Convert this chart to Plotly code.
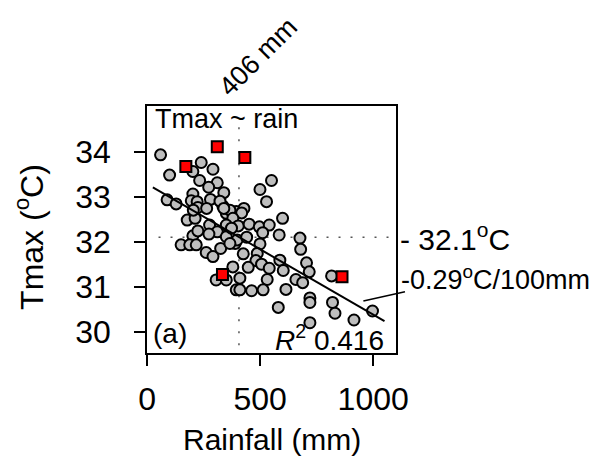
import plotly.graph_objects as go

# ---- data ----
rain_grey = [59, 99, 239, 202, 291, 232, 310, 272, 339, 88, 128, 202, 195, 221, 280, 335, 350, 394,
             224, 550, 499, 528, 428, 418, 599, 366,
             177, 212, 276, 310, 273, 350, 202, 224, 150, 188, 217, 261, 291, 325, 379, 305, 350, 394,
             379, 350, 389,
             403, 451, 496, 540, 511, 584, 676, 679, 398, 440, 499, 425, 487, 481, 447, 506, 540, 587,
             602, 705, 717, 658, 688, 410, 531, 410, 462, 513, 614, 720,
             373, 366, 816, 580, 720, 820, 831, 915, 997, 720, 204, 263, 322, 339]
tmax_grey = [33.93, 33.48, 33.76, 33.56, 33.61, 33.36, 33.31, 33.21, 33.09, 32.93, 32.84, 33.06, 32.91, 32.89, 32.94, 32.79, 32.63, 32.67,
             32.76, 33.36, 33.16, 32.89, 32.74, 32.64, 32.52, 32.70,
             32.48, 32.52, 32.37, 32.22, 32.17, 32.11, 32.13, 32.24, 31.93, 31.93, 31.93, 31.76, 31.67, 31.85, 31.44, 31.15, 31.15, 30.93,
             32.52, 32.37, 31.96,
             32.35, 32.39, 32.33, 32.37, 32.20, 32.15, 32.08, 31.83, 32.04, 32.10, 31.95, 31.73, 31.74, 31.58, 31.43, 31.50, 31.41, 31.59,
             31.36, 31.53, 31.33, 31.16, 31.09, 31.19, 31.16, 30.93, 30.91, 30.93, 30.94, 30.75,
             32.30, 31.96, 31.24, 30.54, 30.65, 30.65, 30.41, 30.26, 30.46, 30.20, 32.70, 32.74, 32.90, 32.74]

rain_red = [171, 310, 432, 333, 862]
tmax_red = [33.67, 34.11, 33.87, 31.27, 31.22]

fit_intercept = 33.28       # degC
fit_slope = -0.0029         # degC per mm  (-0.29 degC / 100 mm)
fit_range = [25, 1050]      # mm
r_squared = 0.416
rain_mean = 406             # mm
tmax_mean = 32.1            # degC

x_ticks = [0, 500, 1000]
y_ticks = [30, 31, 32, 33, 34]

FONT = "Liberation Sans, Arial, sans-serif"

fig = go.Figure()

# dotted cross-hair lines
fig.add_trace(go.Scatter(x=[rain_mean, rain_mean], y=[29.7, 34.6], mode="lines",
                         line=dict(color="#555555", width=1.5, dash="2px,10px"), hoverinfo="skip"))
fig.add_trace(go.Scatter(x=[50, 1090], y=[tmax_mean, tmax_mean], mode="lines",
                         line=dict(color="#555555", width=1.5, dash="2px,10px"), hoverinfo="skip"))

fig.add_trace(go.Scatter(x=rain_grey, y=tmax_grey, mode="markers",
                         marker=dict(size=11, color="#BEBEBE", line=dict(color="black", width=2))))
fig.add_trace(go.Scatter(x=rain_red, y=tmax_red, mode="markers",
                         marker=dict(size=11, symbol="square", color="#FF0000",
                                     line=dict(color="black", width=2))))
fit_y = [fit_intercept + fit_slope * v for v in fit_range]
fig.add_trace(go.Scatter(x=fit_range, y=fit_y, mode="lines",
                         line=dict(color="black", width=2), hoverinfo="skip"))

axis_common = dict(showgrid=False, zeroline=False, showline=True, mirror=True,
                   linecolor="black", linewidth=1.5, ticks="outside", ticklen=11,
                   tickwidth=1.5, tickcolor="black",
                   tickfont=dict(family=FONT, size=32, color="black"))

fig.update_layout(
    width=598, height=464,
    margin=dict(l=147, r=202, t=106, b=111, pad=0),
    paper_bgcolor="white", plot_bgcolor="white",
    showlegend=False,
    xaxis=dict(range=[-1, 1101], tickvals=x_ticks, ticktext=[str(v) for v in x_ticks],
               ticklabelstandoff=6, **axis_common),
    yaxis=dict(range=[29.527, 35.015], tickvals=y_ticks, ticktext=[str(v) for v in y_ticks],
               ticklabelstandoff=17, **axis_common),
)

ann_font = dict(family=FONT, color="black")
fig.add_annotation(text="Tmax ~ rain", xref="paper", yref="paper", x=0.026, y=0.947,
                   xanchor="left", yanchor="middle", showarrow=False, font=dict(size=27, **ann_font))
fig.add_annotation(text="(a)", xref="paper", yref="paper", x=0.018, y=0.077,
                   xanchor="left", yanchor="middle", showarrow=False, font=dict(size=28, **ann_font))
fig.add_annotation(text=f"<i>R</i><sup>2</sup> {r_squared:.3f}", xref="paper", yref="paper", x=0.958, y=0.06,
                   xanchor="right", yanchor="middle", showarrow=False, font=dict(size=28, **ann_font))
fig.add_annotation(text=f"- {tmax_mean}<sup>o</sup>C", xref="paper", yref="y", x=1.0, y=tmax_mean,
                   xanchor="left", yanchor="middle", xshift=2, showarrow=False, font=dict(size=30, **ann_font))
fig.add_annotation(text=f"{fit_slope*100:.2f}<sup>o</sup>C/100mm", xref="paper", yref="y", x=1.0, y=31.2,
                   xanchor="left", yanchor="middle", xshift=3, showarrow=False, font=dict(size=27, **ann_font))
fig.add_annotation(text=f"{rain_mean} mm", xref="paper", yref="paper", x=0.445, y=1.2,
                   xanchor="center", yanchor="middle", textangle=-45, showarrow=False,
                   font=dict(size=27, **ann_font))
fig.add_annotation(text="Rainfall (mm)", xref="paper", yref="paper", x=0.502, y=-0.352,
                   xanchor="center", yanchor="middle", showarrow=False, font=dict(size=30, **ann_font))
fig.add_annotation(text="Tmax (<sup>o</sup>C)", xref="paper", yref="paper", x=-0.474, y=0.47,
                   xanchor="center", yanchor="middle", textangle=-90, showarrow=False,
                   font=dict(size=32, **ann_font))

# leader line for the slope label
fig.add_shape(type="line", xref="paper", yref="paper", x0=0.869, y0=0.2105, x1=1.036, y1=0.248,
              line=dict(color="black", width=1.5))

fig.write_html("out.html")
